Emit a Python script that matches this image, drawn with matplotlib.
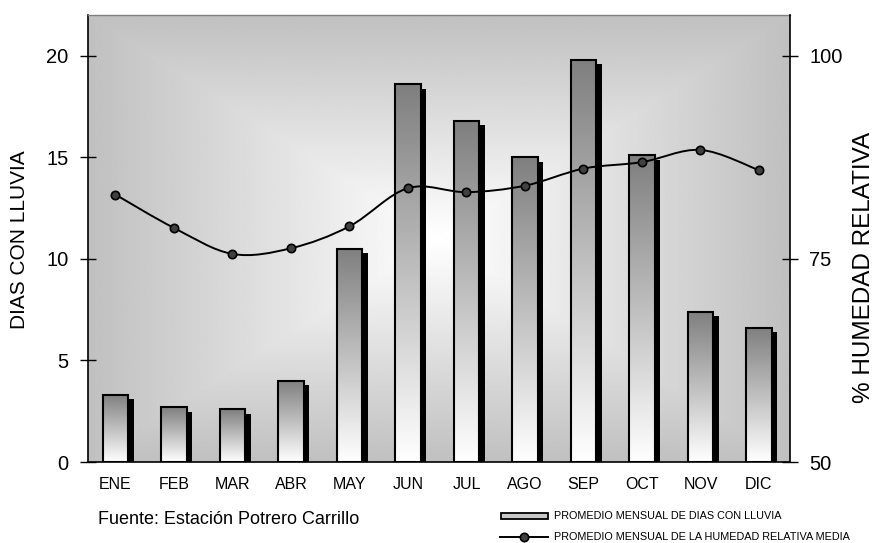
import numpy as np
import matplotlib
matplotlib.use("Agg")
import matplotlib.pyplot as plt
import matplotlib.transforms as mtransforms
from matplotlib.colors import LinearSegmentedColormap
from matplotlib.path import Path
from matplotlib.patches import PathPatch, Rectangle
from matplotlib.lines import Line2D

plt.rcParams['font.family'] = ['Liberation Sans', 'DejaVu Sans']

# data
months = ["ENE", "FEB", "MAR", "ABR", "MAY", "JUN",
          "JUL", "AGO", "SEP", "OCT", "NOV", "DIC"]
rain_days = [3.3, 2.7, 2.6, 4.0, 10.5, 18.6, 16.8, 15.0, 19.8, 15.1, 7.4, 6.6]
humidity = [82.9, 78.8, 75.6, 76.3, 79.0, 83.7, 83.2, 84.0, 86.1, 86.9, 88.4, 85.9]
left_ticks = [0, 5, 10, 15, 20]
right_ticks = [50, 75, 100]

W, H = 876, 543
fig = plt.figure(figsize=(W / 100, H / 100), dpi=100)


def fx(px):
    return px / W


def fy(py):
    return 1 - py / H


ax = fig.add_axes([fx(88), fy(462), fx(790) - fx(88), fy(15) - fy(462)])

# rectangular "from centre" gradient behind the plot
u = np.linspace(-1, 1, 400)
uu, vv = np.meshgrid(u, u)
t = np.maximum(np.abs(uu), np.abs(vv))
bg = 255 - 63 * t
ax.imshow(bg, extent=(0, 1, 0, 1), transform=ax.transAxes, cmap='gray',
          vmin=0, vmax=255, aspect='auto', zorder=0, interpolation='bilinear')

x = np.arange(len(months))
w = 0.43
shadow_tr = ax.transData + mtransforms.ScaledTranslation(5.5 / 100, -4.5 / 100, fig.dpi_scale_trans)
shadows = ax.bar(x, rain_days, w, color='black', linewidth=0, zorder=2)
for s in shadows:
    s.set_transform(shadow_tr)

bar_cmap = LinearSegmentedColormap.from_list('bar', ['#7f7f7f', '#ffffff'])
bars = ax.bar(x, rain_days, w, facecolor='none', edgecolor='black', linewidth=1.5, zorder=4)
grad = np.linspace(0, 1, 256).reshape(-1, 1)
for b in bars:
    x0, bw, bh = b.get_x(), b.get_width(), b.get_height()
    im = ax.imshow(grad, extent=(x0, x0 + bw, 0, bh), cmap=bar_cmap, origin='upper',
                   aspect='auto', zorder=3, interpolation='bilinear')
    im.set_clip_path(b)

ax.set_xlim(-0.47, 11.53)
ax.set_ylim(0, 22)
ax.set_yticks(left_ticks)
ax.set_xticks(x)
ax.set_xticklabels(months)
ax.tick_params(axis='y', direction='inout', length=12, width=1, labelsize=14.5, pad=8)
ax.tick_params(axis='x', length=0, labelsize=11.5, pad=11)
ax.spines['top'].set_color('#808080')
ax.spines['top'].set_linewidth(1)
ax.spines['right'].set_visible(False)
for sp in ['left', 'bottom']:
    ax.spines[sp].set_linewidth(1.2)

# humidity line on the right axis
ax2 = ax.twinx()
ax2.patch.set_visible(False)
ax2.set_ylim(50, 105)
ax2.set_yticks(right_ticks)
ax2.tick_params(axis='y', direction='inout', length=12, width=1, labelsize=14.5, pad=8)
for sp in ['top', 'left', 'bottom']:
    ax2.spines[sp].set_visible(False)
ax2.spines['right'].set_linewidth(1.2)

pts = np.column_stack([x, humidity]).astype(float)
n = len(pts)
verts = [pts[0]]
codes = [Path.MOVETO]
for i in range(n - 1):
    p0, p1, p2, p3 = pts[max(i - 1, 0)], pts[i], pts[i + 1], pts[min(i + 2, n - 1)]
    verts += [p1 + (p2 - p0) / 6, p2 - (p3 - p1) / 6, p2]
    codes += [Path.CURVE4] * 3
ax2.add_patch(PathPatch(Path(verts, codes), fill=False, lw=1.4, ec='black', zorder=5))
ax2.plot(x, humidity, 'o', ms=6, mfc='#404040', mec='black', mew=1.2, zorder=6)

# axis titles
fig.text(fx(20), fy(240), 'DIAS CON LLUVIA', rotation=90, ha='center', va='center', fontsize=15)
fig.text(fx(864), fy(267), '% HUMEDAD RELATIVA', rotation=90, ha='center', va='center', fontsize=17.5)

fig.text(fx(98), fy(524), 'Fuente: Estación Potrero Carrillo', ha='left', va='baseline', fontsize=13)

# legend
fig.add_artist(Rectangle((fx(501), fy(519)), fx(548) - fx(501), fy(513) - fy(519),
                         transform=fig.transFigure, fc='#c8c8c8', ec='black', lw=1.3))
fig.add_artist(Line2D([fx(500), fx(548)], [fy(537), fy(537)], transform=fig.transFigure,
                      color='black', lw=1.4))
fig.add_artist(Line2D([fx(524)], [fy(537)], transform=fig.transFigure, marker='o', ms=6,
                      mfc='#404040', mec='black', mew=1.2))
fig.text(fx(554), fy(516), 'PROMEDIO MENSUAL DE DIAS CON LLUVIA', ha='left', va='center', fontsize=7.8)
fig.text(fx(554), fy(537), 'PROMEDIO MENSUAL DE LA HUMEDAD RELATIVA MEDIA', ha='left', va='center', fontsize=7.8)

fig.savefig('out.png', dpi=100)
